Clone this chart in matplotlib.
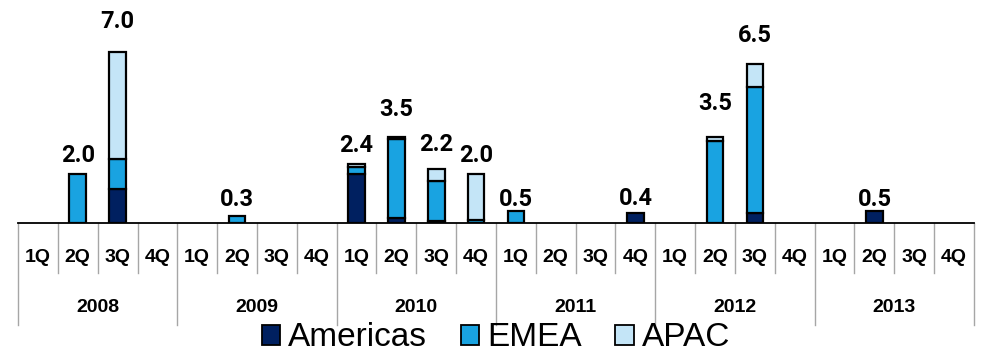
import numpy as np
import matplotlib
matplotlib.use("Agg")
import matplotlib.pyplot as plt
from matplotlib.patches import Patch

years = ["2008", "2009", "2010", "2011", "2012", "2013"]
quarters = ["1Q", "2Q", "3Q", "4Q"]

# values per quarter, 2008 1Q .. 2013 4Q
americas = [0, 0, 1.4, 0,  0, 0, 0, 0,  2.0, 0.2, 0.1, 0,
            0, 0, 0, 0.4,  0, 0, 0.4, 0,  0, 0.5, 0, 0]
emea = [0, 2.0, 1.2, 0,  0, 0.3, 0, 0,  0.3, 3.25, 1.6, 0.12,
        0.5, 0, 0, 0,  0, 3.35, 5.15, 0,  0, 0, 0, 0]
apac = [0, 0, 4.4, 0,  0, 0, 0, 0,  0.1, 0.05, 0.5, 1.88,
        0, 0, 0, 0,  0, 0.15, 0.95, 0,  0, 0, 0, 0]
totals = ["", "2.0", "7.0", "",  "", "0.3", "", "",  "2.4", "3.5", "2.2", "2.0",
          "0.5", "", "", "0.4",  "", "3.5", "6.5", "",  "", "0.5", "", ""]
# gap between bar top and label baseline, in pixels
label_gap = [0, 12, 24, 0,  0, 10, 0, 0,  12, 21, 18, 12,
             5, 0, 0, 8,  0, 27, 22, 0,  0, 5, 0, 0]

c_am = "#002060"
c_em = "#19A3E1"
c_ap = "#C4E5F7"

fig = plt.figure(figsize=(9.84, 3.55), dpi=100)
ax = fig.add_axes([18 / 984, 132 / 355, 956 / 984, 223 / 355])

n = len(americas)
x = np.arange(n) + 0.5
am = np.array(americas)
em = np.array(emea)
ap = np.array(apac)
w = 0.42
kw = dict(width=w, edgecolor="black", linewidth=1.6)
ax.bar(x, am, color=c_am, **kw)
ax.bar(x, em, bottom=am, color=c_em, **kw)
ax.bar(x, ap, bottom=am + em, color=c_ap, **kw)

# no outline for empty segments
for p in ax.patches:
    if p.get_height() == 0:
        p.set_visible(False)

top = am + em + ap
for i in range(n):
    if totals[i]:
        ax.annotate(totals[i], (x[i], top[i]), xytext=(0, label_gap[i] * 0.72),
                    textcoords="offset points", ha="center", va="baseline",
                    fontsize=17, fontweight="bold", family="Roboto")

ax.set_xlim(0, n)
ax.set_ylim(0, 223 / 24.45)
for s in ["top", "right", "left"]:
    ax.spines[s].set_visible(False)
ax.spines["bottom"].set_linewidth(1.3)
ax.set_xticks([])
ax.set_yticks([])

tr = ax.get_xaxis_transform()
for i in range(n + 1):
    depth = -102 / 223 if i % 4 == 0 else -50 / 223
    ax.plot([i, i], [0, depth], transform=tr, color="#A6A6A6",
            linewidth=1.0, clip_on=False)

for i in range(n):
    ax.text(x[i], -34 / 223, quarters[i % 4], transform=tr, ha="center",
            va="center", fontsize=14, fontweight="bold", family="Liberation Sans")
for j, yr in enumerate(years):
    ax.text(4 * j + 2, -84 / 223, yr, transform=tr, ha="center", va="center",
            fontsize=14, fontweight="bold", family="Liberation Sans")

handles = [Patch(facecolor=c, edgecolor="black", linewidth=1.3)
           for c in (c_am, c_em, c_ap)]
fig.legend(handles, ["Americas", "EMEA", "APAC"], loc="center",
           bbox_to_anchor=(496 / 984, 17 / 355), ncol=3, frameon=False,
           prop={"family": "Liberation Sans", "size": 24},
           handlelength=0.55, handleheight=0.55, handletextpad=0.25,
           columnspacing=1.0, borderpad=0, borderaxespad=0)

fig.savefig("out.png", dpi=100)
